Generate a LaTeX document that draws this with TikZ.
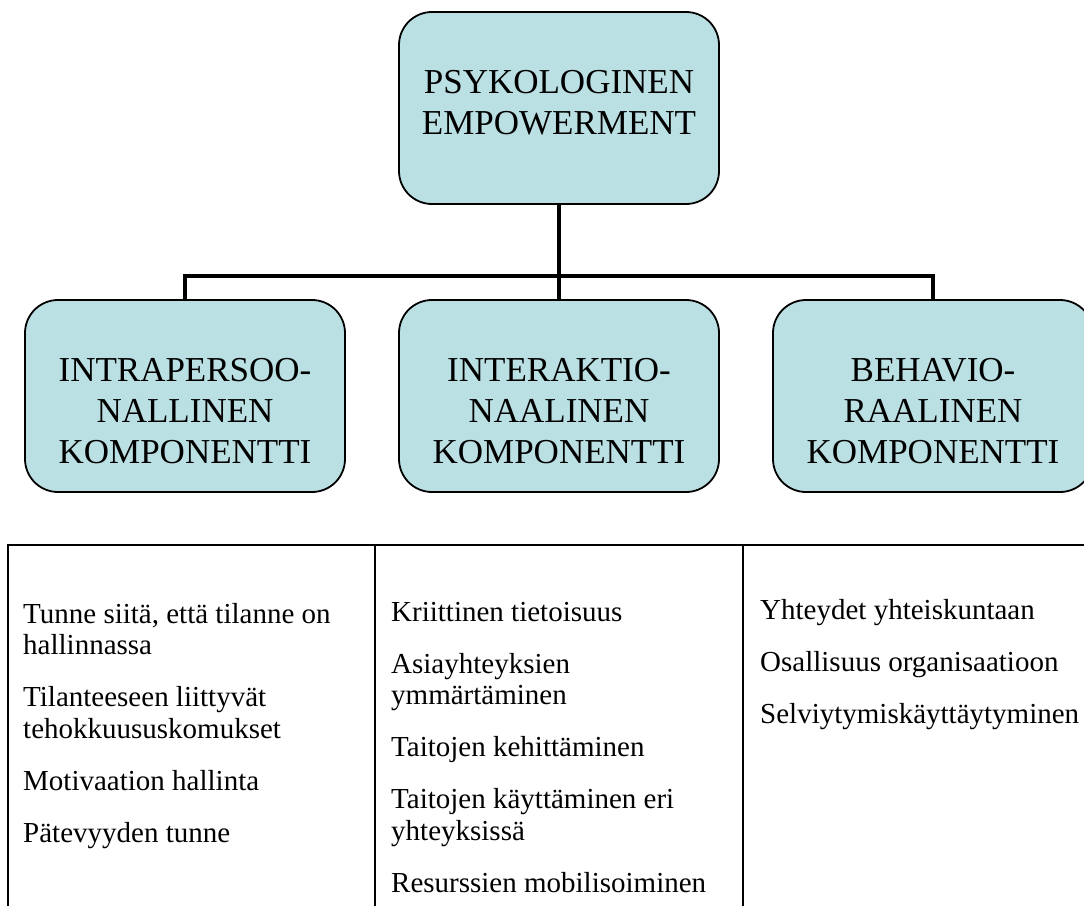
\documentclass[tikz,border=0pt]{standalone}
\usepackage{fontspec}
\setmainfont{Liberation Serif}
\definecolor{boxfill}{RGB}{187,224,227}
\tikzset{
  component/.style={draw,fill=boxfill,line width=1.8pt,rounded corners=33pt,
    minimum width=320pt,minimum height=192pt,inner sep=0pt},
  caption/.style={anchor=base,align=center,inner sep=0pt,
    font=\fontsize{35}{41}\selectfont},
  itemlist/.style={anchor=base west,align=left,inner sep=0pt,
    font=\fontsize{29}{31.5}\selectfont},
  gridline/.style={line width=2pt}
}

\begin{document}
\begin{tikzpicture}[x=1pt,y=-1pt,level distance=288pt,sibling distance=374pt]
  \useasboundingbox (0,0) rectangle (1084,905);
  % The main concept with its three components below it.
  % The tree grows down; the edges meet in one bar under the top box.
  \node[component] (psy) at (559,108) {}
    [grow=down,edge from parent/.style={draw,line width=4.5pt},
     edge from parent path={(\tikzparentnode.south) -- ++(0,-71pt) -| (\tikzchildnode.north)}]
    child {node[component] (intra) {}}
    child {node[component] (inter) {}}
    child {node[component] (behav) {}};
  % Texts of the boxes (base = baseline of the last line)
  \node[caption] (psytext) at ([yshift=-26.5pt]psy.center) {PSYKOLOGINEN\\EMPOWERMENT};
  \node[caption] (intratext) at ([yshift=-67pt]intra.center) {INTRAPERSOO-\\NALLINEN\\KOMPONENTTI};
  \node[caption] (intertext) at ([yshift=-67pt]inter.center) {INTERAKTIO-\\NAALINEN\\KOMPONENTTI};
  \node[caption] (behavtext) at ([yshift=-67pt]behav.center) {BEHAVIO-\\RAALINEN\\KOMPONENTTI};
  % The table under the boxes
  \draw[gridline] (8,910) -- (8,545) -- (1090,545);
  \draw[gridline] (375,545) -- (375,910);
  \draw[gridline] (743,545) -- (743,910);
  \node[itemlist] (intralist) at (23,842)
    {Tunne siitä, että tilanne on\\hallinnassa\\[20.5pt]
     Tilanteeseen liittyvät\\tehokkuususkomukset\\[20.5pt]
     Motivaation hallinta\\[20.5pt]
     Pätevyyden tunne};
  \node[itemlist] (interlist) at (391,892)
    {Kriittinen tietoisuus\\[20.5pt]
     Asiayhteyksien\\ymmärtäminen\\[20.5pt]
     Taitojen kehittäminen\\[20.5pt]
     Taitojen käyttäminen eri\\yhteyksissä\\[20.5pt]
     Resurssien mobilisoiminen};
  \node[itemlist] (behavlist) at (760,723)
    {Yhteydet yhteiskuntaan\\[20.5pt]
     Osallisuus organisaatioon\\[20.5pt]
     Selviytymiskäyttäytyminen};
\end{tikzpicture}
\end{document}
